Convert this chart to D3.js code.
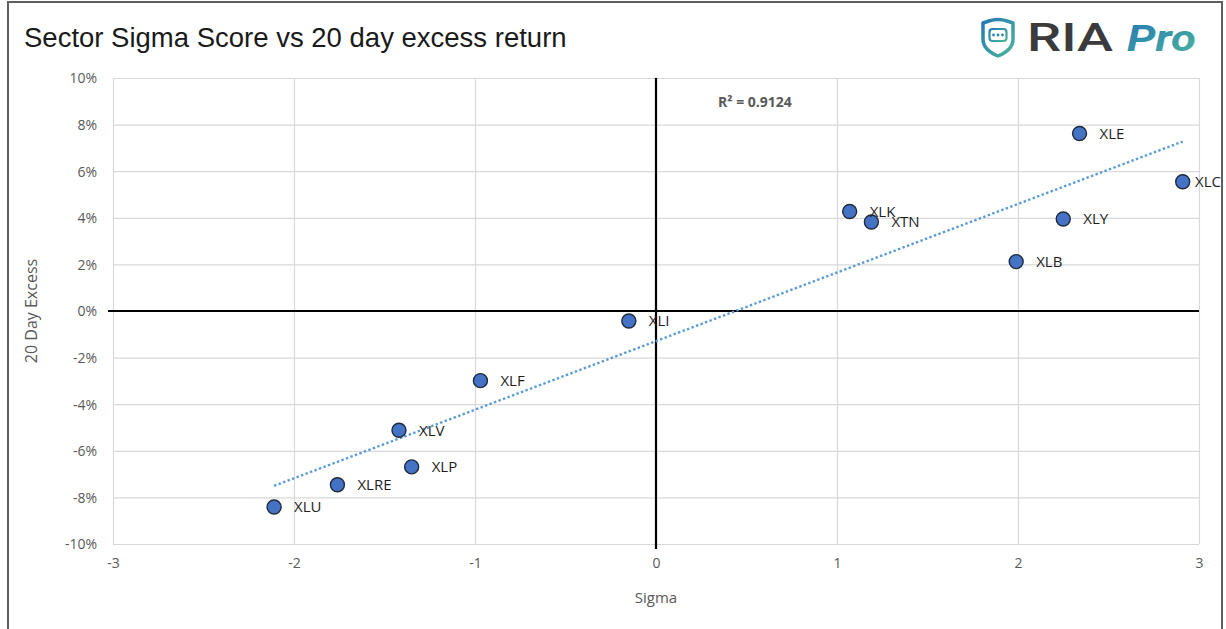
<!DOCTYPE html>
<html>
<head>
<meta charset="utf-8">
<script src="https://cdn.jsdelivr.net/npm/d3@7"></script>
<style>
  html, body { margin: 0; padding: 0; background: #fff; }
  svg { display: block; }
  .tick text { font-family: "Open Sans", sans-serif; font-size: 14px; fill: #595959; }
</style>
</head>
<body>
<svg id="chart"></svg>
<script>
// sector tickers and their values
var tickers = ["XLE", "XLC", "XLK", "XTN", "XLY", "XLB", "XLI", "XLF", "XLV", "XLP", "XLRE", "XLU"];
var sigma = [2.34, 2.91, 1.07, 1.19, 2.25, 1.99, -0.15, -0.97, -1.42, -1.35, -1.76, -2.11];
var excess = [0.0762, 0.0555, 0.0427, 0.0382, 0.0395, 0.0212, -0.0043, -0.0299, -0.0512, -0.0669, -0.0746, -0.0841];

var xTicks = [-3, -2, -1, 0, 1, 2, 3];
var yTicks = [-0.10, -0.08, -0.06, -0.04, -0.02, 0, 0.02, 0.04, 0.06, 0.08, 0.10];

var titleText = "Sector Sigma Score vs 20 day excess return";
var xTitle = "Sigma";
var yTitle = "20 Day Excess";
var r2Text = "R\u00B2 = 0.9124";

var width = 1226,
    height = 629;

var plot = { left: 113, right: 1199, top: 78, bottom: 544 };

var svg = d3.select("#chart")
    .attr("width", width)
    .attr("height", height);

// frame of the chart area
svg.append("rect")
    .attr("x", 8)
    .attr("y", 2)
    .attr("width", 1214)
    .attr("height", 660)
    .attr("fill", "#fff")
    .attr("stroke", "#5f5f5f")
    .attr("stroke-width", 2);

svg.append("text")
    .attr("x", 24)
    .attr("y", 47)
    .style("font-family", "'Liberation Sans', Arial, sans-serif")
    .style("font-size", "27.5px")
    .attr("fill", "#1a1a1a")
    .text(titleText);

// logo
var defs = svg.append("defs");
var grad = defs.append("linearGradient")
    .attr("id", "teal")
    .attr("x1", "0%").attr("y1", "0%")
    .attr("x2", "100%").attr("y2", "100%");
grad.append("stop").attr("offset", "0%").attr("stop-color", "#2578b5");
grad.append("stop").attr("offset", "100%").attr("stop-color", "#4bb59a");

var logo = svg.append("g").attr("transform", "translate(981,18)");
logo.append("path")
    .attr("d", "M2,5 L8,3 Q17,0 26,3 L32,5 L32,21 Q32,32 17,38 Q2,32 2,21 Z")
    .attr("fill", "none")
    .attr("stroke", "url(#teal)")
    .attr("stroke-width", 3.5)
    .attr("stroke-linejoin", "round");
logo.append("rect")
    .attr("x", 8.5).attr("y", 11)
    .attr("width", 17).attr("height", 12)
    .attr("rx", 3)
    .attr("fill", "none")
    .attr("stroke", "url(#teal)")
    .attr("stroke-width", 2.2);
logo.selectAll("circle.dot")
    .data([12.5, 17, 21.5])
    .enter().append("circle")
    .attr("class", "dot")
    .attr("cx", function(d) { return d; })
    .attr("cy", 17)
    .attr("r", 1.4)
    .attr("fill", "#2e86b0");

svg.append("text")
    .attr("x", 1027)
    .attr("y", 51)
    .attr("textLength", 86)
    .attr("lengthAdjust", "spacingAndGlyphs")
    .style("font-family", "Roboto, sans-serif")
    .style("font-weight", 500)
    .style("font-size", "38px")
    .attr("fill", "#3b3b3b")
    .text("RIA");

svg.append("text")
    .attr("x", 1127)
    .attr("y", 51)
    .attr("textLength", 69)
    .attr("lengthAdjust", "spacingAndGlyphs")
    .style("font-family", "Roboto, sans-serif")
    .style("font-weight", 700)
    .style("font-style", "italic")
    .style("font-size", "37px")
    .attr("fill", "url(#teal)")
    .text("Pro");

// scales
var x = d3.scaleLinear().domain([-3, 3]).range([plot.left, plot.right]);
var y = d3.scaleLinear().domain([-0.10, 0.10]).range([plot.bottom, plot.top]);

// gridlines + tick labels
var xAxis = d3.axisBottom(x)
    .tickValues(xTicks)
    .tickSize(-(plot.bottom - plot.top))
    .tickPadding(14)
    .tickFormat(function(d) { return d < 0 ? "-" + Math.abs(d) : String(d); });

var yAxis = d3.axisLeft(y)
    .tickValues(yTicks)
    .tickSize(-(plot.right - plot.left))
    .tickPadding(16)
    .tickFormat(function(d) {
        var v = Math.round(d * 100);
        return v < 0 ? "-" + Math.abs(v) + "%" : v + "%";
    });

var gx = svg.append("g")
    .attr("transform", "translate(0," + plot.bottom + ")")
    .call(xAxis);
var gy = svg.append("g")
    .attr("transform", "translate(" + plot.left + ",0)")
    .call(yAxis);

[gx, gy].forEach(function(g) {
    g.select(".domain").remove();
    g.selectAll(".tick line")
        .attr("stroke", "#d9d9d9")
        .attr("stroke-width", 1.2);
});
gy.selectAll(".tick text").attr("dy", "0.35em");

// zero axes
svg.append("line")
    .attr("x1", plot.left - 5).attr("x2", plot.right)
    .attr("y1", y(0)).attr("y2", y(0))
    .attr("stroke", "#000")
    .attr("stroke-width", 2.2);
svg.append("line")
    .attr("x1", x(0)).attr("x2", x(0))
    .attr("y1", plot.top).attr("y2", plot.bottom + 5)
    .attr("stroke", "#000")
    .attr("stroke-width", 2.2);

// axis titles
svg.append("text")
    .attr("x", x(0))
    .attr("y", 603)
    .attr("text-anchor", "middle")
    .style("font-family", "'Open Sans', sans-serif")
    .style("font-size", "15px")
    .attr("fill", "#595959")
    .text(xTitle);

svg.append("text")
    .attr("transform", "translate(37," + y(0) + ") rotate(-90)")
    .attr("text-anchor", "middle")
    .style("font-family", "'Open Sans', sans-serif")
    .style("font-size", "16px")
    .attr("fill", "#595959")
    .text(yTitle);

// linear trendline from least squares fit
var n = sigma.length;
var mx = d3.mean(sigma), my = d3.mean(excess);
var sxy = 0, sxx = 0;
for (var i = 0; i < n; i++) {
    sxy += (sigma[i] - mx) * (excess[i] - my);
    sxx += (sigma[i] - mx) * (sigma[i] - mx);
}
var slope = sxy / sxx;
var intercept = my - slope * mx;
var xMin = d3.min(sigma), xMax = d3.max(sigma);

svg.append("line")
    .attr("x1", x(xMin)).attr("y1", y(intercept + slope * xMin))
    .attr("x2", x(xMax)).attr("y2", y(intercept + slope * xMax))
    .attr("stroke", "#5b9bd5")
    .attr("stroke-width", 2.4)
    .attr("stroke-dasharray", "2.4,2.4");

svg.append("text")
    .attr("x", 718)
    .attr("y", 107)
    .style("font-family", "'Open Sans', sans-serif")
    .style("font-size", "14px")
    .style("font-weight", 700)
    .attr("fill", "#595959")
    .text(r2Text);

// points
var points = tickers.map(function(t, i) {
    return { name: t, sx: sigma[i], ex: excess[i] };
});

svg.append("g")
    .selectAll("circle")
    .data(points)
    .enter().append("circle")
    .attr("cx", function(d) { return x(d.sx); })
    .attr("cy", function(d) { return y(d.ex); })
    .attr("r", 7)
    .attr("fill", "#4472c4")
    .attr("stroke", "#1f2a3a")
    .attr("stroke-width", 1.4);

var labels = svg.append("g")
    .selectAll("text")
    .data(points)
    .enter().append("text")
    .attr("x", function(d) { return x(d.sx) + 20; })
    .attr("y", function(d) { return y(d.ex); })
    .attr("dy", "0.35em")
    .style("font-family", "'Open Sans', sans-serif")
    .style("font-size", "15px")
    .attr("fill", "#1e1e1e")
    .text(function(d) { return d.name; });

// keep labels inside the chart frame
labels.each(function(d) {
    var w = this.getComputedTextLength();
    var lx = x(d.sx) + 20;
    if (lx + w > 1221) lx = 1221 - w;
    d3.select(this).attr("x", lx);
});
</script>
</body>
</html>
